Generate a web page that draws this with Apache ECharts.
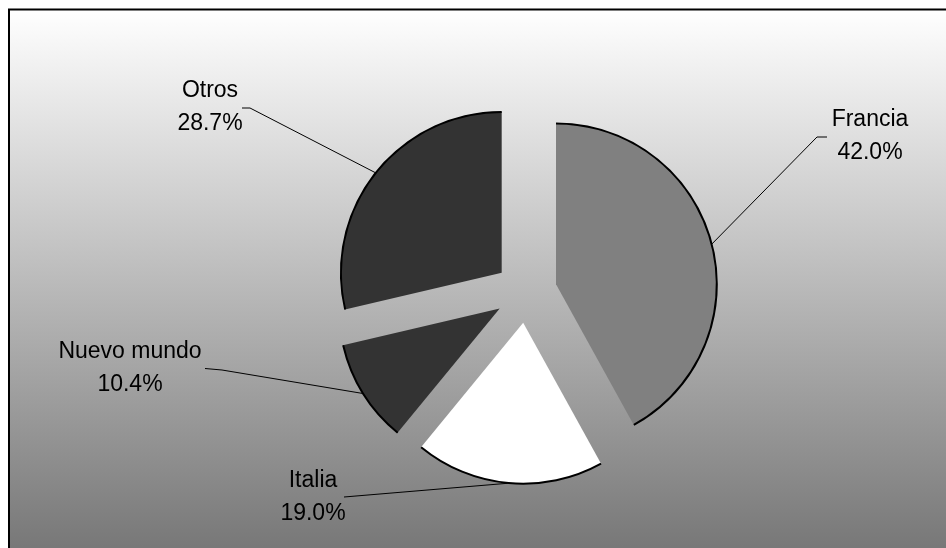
<!DOCTYPE html>
<html>
<head>
<meta charset="utf-8">
<script src="https://cdn.jsdelivr.net/npm/echarts@6/dist/echarts.min.js"></script>
<style>
  html, body { margin: 0; padding: 0; background: #ffffff; }
  #chart { width: 946px; height: 548px; }
</style>
</head>
<body>
<div id="chart"></div>
<script>
// Market share by origin (percent)
const categories = ['Francia', 'Italia', 'Nuevo mundo', 'Otros'];
const shares = [42.0, 19.0, 10.4, 28.7];
const sliceColors = ['#808080', '#ffffff', '#333333', '#333333'];

// Pie geometry: every slice is pulled out from the common centre
const CX = 526, CY = 292, R = 161, EXPLODE = 31;

// Label block centre, leader elbow and leader end, relative to the pie centre
const labelPlacement = {
  'Francia':     { label: [344, -155.5], elbow: [291, -155],   end: [301, -155] },
  'Italia':      { label: [-213, 205],   elbow: [-176, 204.5], end: [-182, 205] },
  'Nuevo mundo': { label: [-396, 76.5],  elbow: [-304, 78],    end: [-321, 76.5] },
  'Otros':       { label: [-316, -185],  elbow: [-276, -184],  end: [-284, -184] }
};

// Mid angle of every slice, degrees clockwise from 12 o'clock
const total = shares.reduce((a, b) => a + b, 0);
const midAngles = [];
let acc = 0;
shares.forEach(v => { midAngles.push((acc + v / 2) / total * 360); acc += v; });

const hidden = {
  itemStyle: { color: 'rgba(0,0,0,0)' },
  label: { show: false },
  labelLine: { show: false }
};

const fontFamily = 'Liberation Sans, Arial, sans-serif';

const series = [];
categories.forEach((name, i) => {
  const t = midAngles[i] * Math.PI / 180;
  const center = [CX + EXPLODE * Math.sin(t), CY - EXPLODE * Math.cos(t)];
  const pl = labelPlacement[name];

  // the slice itself, with its label and leader line
  series.push({
    type: 'pie',
    name: name,
    center: center,
    radius: R,
    startAngle: 90,
    clockwise: true,
    silent: true,
    avoidLabelOverlap: false,
    emphasis: { disabled: true },
    itemStyle: { borderWidth: 0 },
    label: {
      show: true,
      position: 'outside',
      color: '#000000',
      fontFamily: fontFamily,
      fontSize: 23,
      lineHeight: 33,
      align: 'center',
      formatter: p => p.name + '\n' + p.value.toFixed(1) + '%'
    },
    labelLine: {
      show: true,
      length: 10,
      length2: 10,
      lineStyle: { color: '#000000', width: 1 }
    },
    labelLayout: function () {
      const sx = CX + (R + EXPLODE) * Math.sin(t);
      const sy = CY - (R + EXPLODE) * Math.cos(t);
      return {
        x: CX + pl.label[0],
        y: CY + pl.label[1],
        align: 'center',
        verticalAlign: 'middle',
        labelLinePoints: [
          [sx, sy],
          [CX + pl.elbow[0], CY + pl.elbow[1]],
          [CX + pl.end[0], CY + pl.end[1]]
        ]
      };
    },
    data: categories.map((n, j) => j === i
      ? { name: n, value: shares[j], itemStyle: { color: sliceColors[j] } }
      : Object.assign({ name: n, value: shares[j] }, hidden))
  });

  // thin dark rim along the outer arc of the slice
  series.push({
    type: 'pie',
    name: name + ' rim',
    center: center,
    radius: [R - 1.2, R + 0.8],
    startAngle: 90,
    clockwise: true,
    silent: true,
    emphasis: { disabled: true },
    label: { show: false },
    labelLine: { show: false },
    itemStyle: { borderWidth: 0 },
    data: categories.map((n, j) => j === i
      ? { name: n, value: shares[j], itemStyle: { color: '#000000' } }
      : Object.assign({ name: n, value: shares[j] }, hidden))
  });
});

const chart = echarts.init(document.getElementById('chart'), null, { renderer: 'canvas' });

chart.setOption({
  animation: false,
  backgroundColor: '#ffffff',
  graphic: [{
    type: 'rect',
    z: -10,
    silent: true,
    shape: { x: 9, y: 9.5, width: 960, height: 560 },
    style: {
      fill: {
        type: 'linear', x: 0, y: 0, x2: 0, y2: 1,
        colorStops: [
          { offset: 0, color: '#ffffff' },
          { offset: 1, color: '#727272' }
        ]
      },
      stroke: '#000000',
      lineWidth: 2
    }
  }],
  series: series
});
</script>
</body>
</html>
